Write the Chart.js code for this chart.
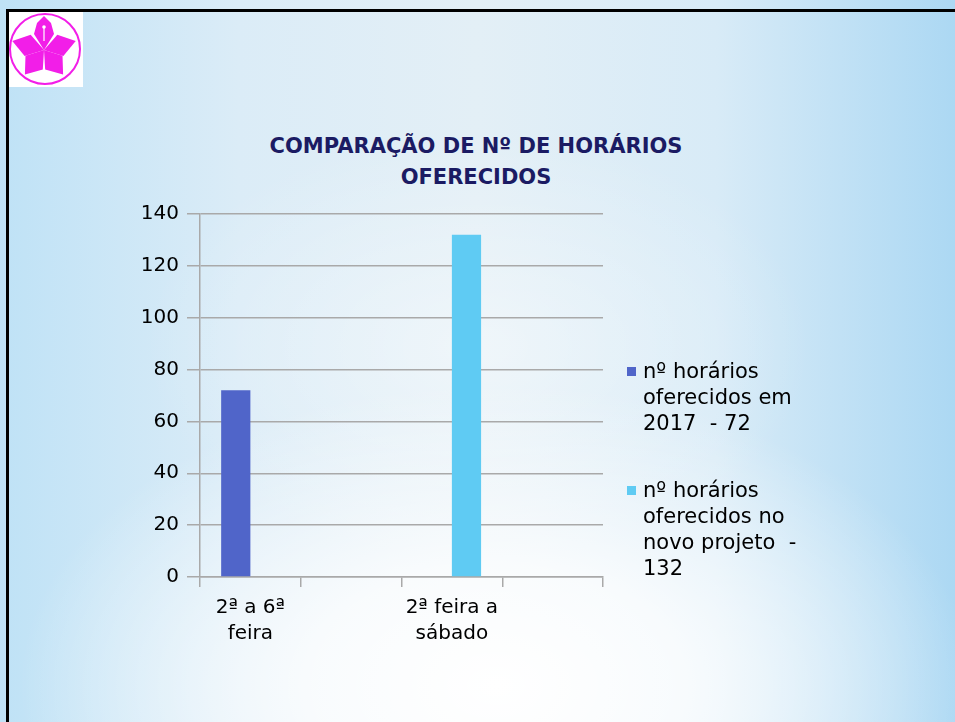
<!DOCTYPE html>
<html>
<head>
<meta charset="utf-8">
<script src="https://cdn.jsdelivr.net/npm/chart.js"></script>
<style>
  html, body { margin: 0; padding: 0; }
  body {
    width: 955px; height: 722px; overflow: hidden; position: relative;
    font-family: "DejaVu Sans", sans-serif;
    background:
      radial-gradient(ellipse 50% 42% at 52% 95%, rgba(255,255,255,1) 0%, rgba(255,255,255,0.8) 40%, rgba(255,255,255,0) 100%),
      radial-gradient(ellipse 35% 30% at 50% 48%, rgba(255,255,255,0.45) 0%, rgba(255,255,255,0) 100%),
      linear-gradient(to right, #bfe2f6 0%, #dbecf7 25%, #e3eff6 50%, #d8ebf7 75%, #acd8f3 100%);
  }
  #frame {
    position: absolute; left: 6px; top: 9px; width: 960px; height: 720px;
    border-top: 3px solid #000; border-left: 3px solid #000;
  }
  #logo { position: absolute; left: 9px; top: 12px; width: 74px; height: 75px; background: #fff; }
  #title {
    position: absolute; left: 200px; top: 131px; width: 552px; text-align: center;
    font-weight: bold; font-size: 21px; line-height: 31px; color: #1b1b63;
  }
  #chart { position: absolute; left: 0; top: 0; }
  #legend { position: absolute; left: 626px; top: 358px; }
  .item { position: relative; padding-left: 17px; width: 170px; font-size: 21px; line-height: 26px;
          color: #000; white-space: pre-wrap; margin-bottom: 41px; }
  .sw { position: absolute; left: 1px; top: 9px; width: 9px; height: 9px; }
</style>
</head>
<body>
<div id="frame"></div>
<div id="logo">
  <svg width="74" height="75" viewBox="9 12 74 75">
    <circle cx="45" cy="49" r="35" fill="none" stroke="#f21ee8" stroke-width="2"/>
    <g fill="#f21ee8">
      <polygon points="44,50 34,34 37,23 44,16 51,23 54,34"/>
      <polygon points="44,50 33,33 44,17 55,33" transform="rotate(-74 44 50)"/>
      <polygon points="44,50 33,33 44,17 55,33" transform="rotate(74 44 50)"/>
      <polygon points="44,50 33,34 44,19 55,34" transform="rotate(-142 44 50)"/>
      <polygon points="44,50 33,34 44,19 55,34" transform="rotate(142 44 50)"/>
    </g>
    <line x1="44" y1="27" x2="44" y2="41" stroke="#fff" stroke-width="1.2"/>
    <circle cx="44" cy="27" r="1.8" fill="#fff"/>
  </svg>
</div>
<div id="title">COMPARAÇÃO DE Nº DE HORÁRIOS<br>OFERECIDOS</div>
<canvas id="chart" width="955" height="722"></canvas>
<div id="legend"></div>
<script>
const categories = [["2ª a 6ª", "feira"], "", ["2ª feira a", "sábado"], ""];
const values2017 = [72, null, null, null];
const valuesNovo = [null, null, 132, null];
const seriesNames = ["nº horários oferecidos em 2017  - 72", "nº horários oferecidos no novo projeto  - 132"];
const seriesColors = ["#5065c9", "#5fcbf3"];
const yMin = 0, yMax = 140, yStep = 20;

const gridColor = "#a9a9a9";
const font = { family: "DejaVu Sans", size: 20, lineHeight: 1.3 };

const ctx = document.getElementById("chart").getContext("2d");
const chart = new Chart(ctx, {
  type: "bar",
  data: {
    labels: categories,
    datasets: [
      { label: seriesNames[0], data: values2017, backgroundColor: seriesColors[0] },
      { label: seriesNames[1], data: valuesNovo, backgroundColor: seriesColors[1] },
    ],
  },
  options: {
    responsive: false,
    animation: false,
    categoryPercentage: 0.58,
    barPercentage: 1,
    layout: { padding: { left: 130, top: 214, right: 352, bottom: 65 } },
    plugins: { legend: { display: false }, tooltip: { enabled: false } },
    scales: {
      x: {
        grid: { drawOnChartArea: false, color: gridColor, lineWidth: 1.5, tickLength: 10 },
        border: { color: gridColor, width: 1.5 },
        ticks: { color: "#000", font: font, padding: 8, maxRotation: 0, autoSkip: false },
        afterFit: (s) => { s.height = 80; },
      },
      y: {
        min: yMin, max: yMax,
        grid: { color: gridColor, lineWidth: 1.5, tickLength: 13 },
        border: { color: gridColor, width: 1.5 },
        ticks: { stepSize: yStep, color: "#000", font: { family: "DejaVu Sans", size: 20 }, padding: 8 },
        afterFit: (s) => { s.width = 70; },
      },
    },
  },
});

// legend built from the datasets
const legend = document.getElementById("legend");
chart.data.datasets.forEach((ds) => {
  const item = document.createElement("div");
  item.className = "item";
  const sw = document.createElement("span");
  sw.className = "sw";
  sw.style.background = ds.backgroundColor;
  item.appendChild(sw);
  item.appendChild(document.createTextNode(ds.label));
  legend.appendChild(item);
});
</script>
</body>
</html>
